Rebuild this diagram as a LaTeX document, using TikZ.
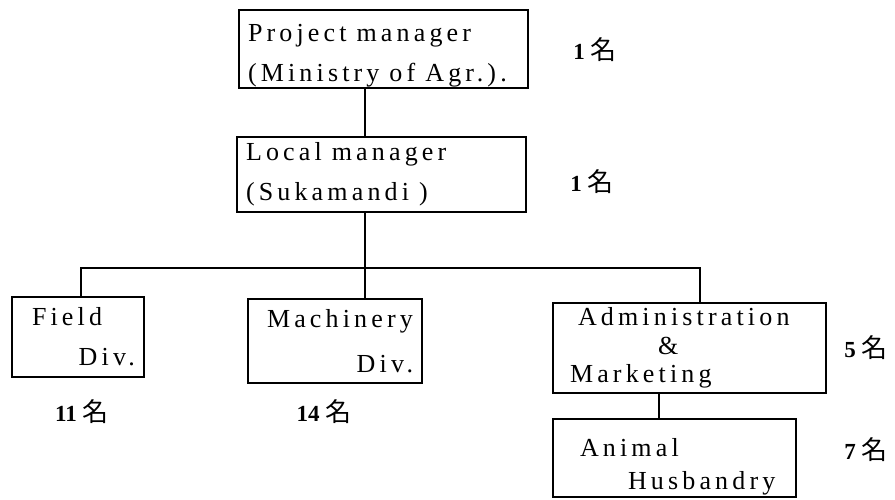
\documentclass[tikz,border=0pt]{standalone}
\usepackage{fontspec}
\setmainfont{Liberation Serif}[LetterSpace=16]
\newfontfamily\numfont{Liberation Serif}
\newfontfamily\cjk{Noto Sans CJK JP}
\usetikzlibrary{positioning,calc}

\newcommand{\boxfont}[1]{\fontsize{26}{#1}\selectfont}
\newcommand{\wsp}{\kern10pt}
\newcommand{\headcount}[1]{{\numfont\bfseries #1}\kern6pt{\cjk\fontsize{26}{26}\selectfont 名}}

\tikzset{
  orgbox/.style={draw, line width=1.3pt, inner xsep=9pt, inner ysep=0pt, align=left},
  conn/.style={line width=1.3pt},
  headcnt/.style={inner sep=0pt, font=\fontsize{23}{24}\selectfont},
}

\begin{document}
\begin{tikzpicture}[x=1pt,y=-1pt]
  \useasboundingbox (0,0) rectangle (895,499);
  % boxes
  \node[orgbox, text width=271pt, minimum height=78pt, font=\boxfont{40}] (pm) at (383.5,49)
    {\rule{0pt}{30pt}Project\wsp manager\\(Ministry\wsp of\wsp Agr.).};
  \node[orgbox, text width=271pt, minimum height=75pt, font=\boxfont{40}] (lm) at (381.5,174.5)
    {Local\wsp manager\\(Sukamandi\wsp)};
  \node[orgbox, text width=114pt, minimum height=80pt, font=\boxfont{40}] (field) at (78,337)
    {\hspace*{11pt}Field\\\mbox{}\hfill Div.};
  \node[orgbox, text width=156pt, minimum height=84pt, font=\boxfont{45}] (mach) at (335,341)
    {\hspace*{10pt}Machinery\\\mbox{}\hfill Div.};
  \node[orgbox, text width=255pt, minimum height=90pt, font=\boxfont{28.5}] (adm) at (689.5,348)
    {\hspace*{16pt}Administration\\\hspace*{96pt}\&\\\hspace*{8pt}Marketing};
  \node[orgbox, text width=225pt, minimum height=78pt, font=\boxfont{33}] (ani) at (674.5,458)
    {\rule{0pt}{35pt}\hspace*{18pt}Animal\\\hspace*{66pt}Husbandry};
  % head counts
  \node[headcnt] (n-pm) at (595,50) {\headcount{1}};
  \node[headcnt] (n-lm) at (592,182) {\headcount{1}};
  \node[headcnt] (n-field) at (82,412) {\headcount{11}};
  \node[headcnt] (n-mach) at (324,412) {\headcount{14}};
  \node[headcnt] (n-adm) at (866,348) {\headcount{5}};
  \node[headcnt] (n-ani) at (866,450) {\headcount{7}};
  % connectors
  \coordinate (trunk) at (365,268);
  \coordinate (ftap) at (81,268);
  \coordinate (atap) at (700,268);
  \coordinate (stem) at (659,0);
  \draw[conn] (pm.south -| trunk) -- (lm.north -| trunk);
  \draw[conn] (lm.south -| trunk) -- (mach.north -| trunk);
  \draw[conn] (field.north -| ftap) -- (ftap) -- (atap) -- (adm.north -| atap);
  \draw[conn] (adm.south -| stem) -- (ani.north -| stem);
\end{tikzpicture}
\end{document}
